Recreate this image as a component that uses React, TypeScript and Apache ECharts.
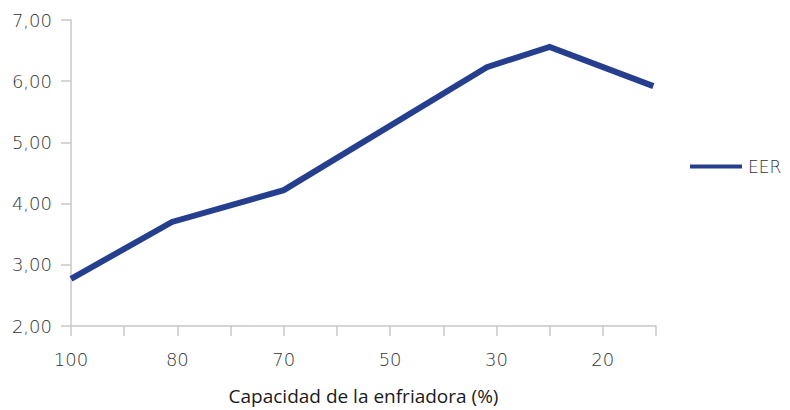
import React, { useEffect, useRef } from "react";
import * as echarts from "echarts";

// Tick labels along the x axis (one per tick position, blank where unlabeled)
const xTickLabels = ["100", "", "80", "", "70", "", "50", "", "30", "", "20", ""];
// Point positions on the x axis (in tick units) and EER values
const xPositions = [0, 1.9, 4, 7.82, 9, 10.95];
const eerValues = [2.77, 3.7, 4.22, 6.23, 6.56, 5.92];
const seriesName = "EER";
const xAxisTitle = "Capacidad de la enfriadora (%)";

export default function App() {
  const ref = useRef<HTMLDivElement>(null);
  useEffect(() => {
    if (!ref.current) return;
    const chart = echarts.init(ref.current, undefined, { renderer: "svg" });
    const thin = "'DejaVu Sans', sans-serif";
    const font = "'Open Sans', 'Noto Sans', sans-serif";
    chart.setOption({
      animation: false,
      textStyle: { fontFamily: font },
      grid: { left: 71, right: 134, top: 20, bottom: 84, containLabel: false, outerBoundsMode: "none" },
      legend: {
        data: [seriesName],
        left: 690,
        top: 158,
        padding: 0,
        icon: "rect",
        itemWidth: 52,
        itemHeight: 4,
        itemGap: 6,
        textStyle: { fontSize: 17, color: "#333", fontWeight: 200, fontFamily: thin, padding: [0, 0, 0, 1] },
      },
      xAxis: {
        type: "value",
        min: 0,
        max: 11,
        interval: 1,
        name: xAxisTitle,
        nameLocation: "middle",
        nameGap: 60,
        nameTextStyle: { fontSize: 19, color: "#1a1a1a", fontFamily: font },
        axisLine: { lineStyle: { color: "#c8c8c8", width: 1.5 } },
        axisTick: { show: true, length: 10, lineStyle: { color: "#c8c8c8", width: 1.5 } },
        axisLabel: {
          margin: 24,
          fontSize: 18,
          color: "#333",
          fontWeight: 200,
          fontFamily: thin,
          formatter: (v: number) => xTickLabels[Math.round(v)] ?? "",
        },
        splitLine: { show: false },
      },
      yAxis: {
        type: "value",
        min: 2,
        max: 7,
        interval: 1,
        axisLine: { show: true, lineStyle: { color: "#c8c8c8", width: 1.5 } },
        axisTick: { show: true, length: 10, lineStyle: { color: "#c8c8c8", width: 1.5 } },
        axisLabel: {
          margin: 19,
          fontSize: 18,
          color: "#333",
          fontWeight: 200,
          fontFamily: thin,
          formatter: (v: number) => v.toFixed(2).replace(".", ","),
        },
        splitLine: { show: false },
      },
      series: [
        {
          name: seriesName,
          type: "line",
          data: xPositions.map((x, i) => [x, eerValues[i]]),
          symbol: "none",
          lineStyle: { color: "#253f8e", width: 6, cap: "butt", join: "miter" },
          itemStyle: { color: "#253f8e" },
        },
      ],
    });
    return () => chart.dispose();
  }, []);
  return <div ref={ref} style={{ width: 790, height: 410, position: "absolute", left: 0, top: 0 }} />;
}
